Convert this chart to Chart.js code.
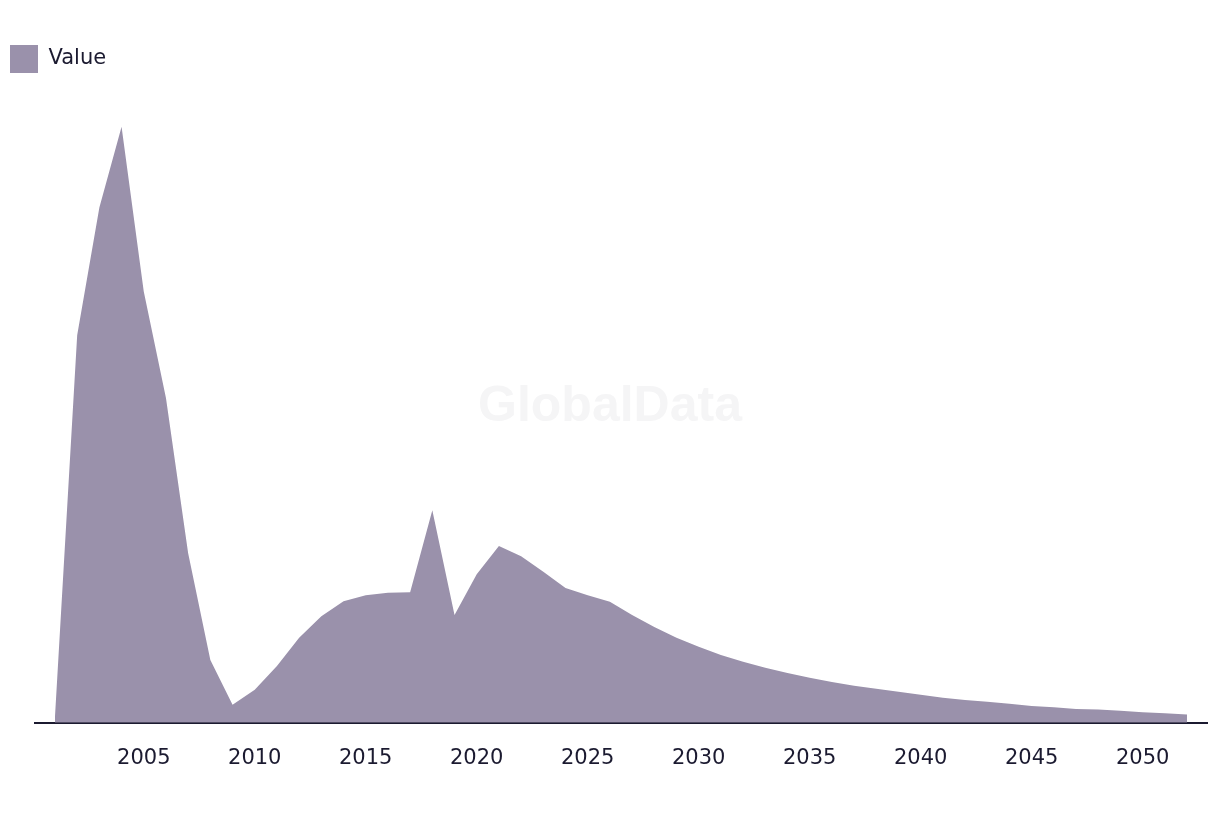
<!DOCTYPE html>
<html>
<head>
<meta charset="utf-8">
<title>Value</title>
<script src="https://cdn.jsdelivr.net/npm/chart.js@4.4.1/dist/chart.umd.min.js"></script>
<style>
  html, body { margin: 0; padding: 0; background: #ffffff; }
  #wrap { position: relative; width: 1220px; height: 814px; }
</style>
</head>
<body>
<div id="wrap"><canvas id="myChart"></canvas></div>
<script>
'use strict';

// ******* DATA *******
let years = [
  2001, 2002, 2003, 2004, 2005, 2006, 2007, 2008, 2009, 2010,
  2011, 2012, 2013, 2014, 2015, 2016, 2017, 2018, 2019, 2020,
  2021, 2022, 2023, 2024, 2025, 2026, 2027, 2028, 2029, 2030,
  2031, 2032, 2033, 2034, 2035, 2036, 2037, 2038, 2039, 2040,
  2041, 2042, 2043, 2044, 2045, 2046, 2047, 2048, 2049, 2050,
  2051, 2052
];
let values = [
  1.0, 64.7, 86.0, 99.5, 72.0, 54.2, 28.3, 10.5, 3.0, 5.5,
  9.5, 14.2, 17.8, 20.3, 21.3, 21.7, 21.8, 35.5, 18.0, 24.8,
  29.5, 27.8, 25.2, 22.5, 21.3, 20.2, 18.0, 16.0, 14.2, 12.7,
  11.3, 10.2, 9.2, 8.3, 7.5, 6.8, 6.2, 5.7, 5.2, 4.7,
  4.2, 3.8, 3.5, 3.2, 2.8, 2.6, 2.3, 2.2, 2.0, 1.75,
  1.6, 1.4
];
let seriesName = 'Value';
let tickStep = 5;

// ******* STYLE *******
let fillColor = 'rgb(154, 145, 171)';
let inkColor = '#1b1a30';
let baseFont = 'DejaVu Sans';

// ******* WATERMARK PLUGIN *******
let watermark = {
  id: 'watermark',
  beforeDraw(chart) {
    let ctx = chart.ctx;
    ctx.save();
    ctx.font = 'bold 50px "Liberation Sans"';
    ctx.fillStyle = '#f5f5f6';
    ctx.textAlign = 'center';
    ctx.textBaseline = 'middle';
    ctx.fillText('GlobalData', chart.width / 2, chart.height / 2);
    ctx.restore();
  }
};

let points = [];
for (let i = 0; i < years.length; i++) {
  points.push({ x: years[i], y: values[i] });
}

let canvasElem = document.getElementById('myChart').getContext('2d');

new Chart(canvasElem, {
  type: 'line',
  data: {
    datasets: [{
      label: seriesName,
      data: points,
      fill: 'origin',
      backgroundColor: fillColor,
      borderColor: fillColor,
      borderWidth: 0,
      pointRadius: 0,
      tension: 0
    }]
  },
  options: {
    responsive: true,
    maintainAspectRatio: false,
    animation: false,
    layout: {
      padding: { top: 35, right: 13, bottom: 20, left: 0 }
    },
    plugins: {
      legend: {
        position: 'top',
        align: 'start',
        labels: {
          boxWidth: 28,
          boxHeight: 28,
          padding: 10,
          color: inkColor,
          font: { family: baseFont, size: 21 }
        }
      },
      tooltip: { enabled: false }
    },
    scales: {
      x: {
        type: 'linear',
        min: 2000.1,
        max: 2052.9,
        grid: { display: false, drawTicks: false },
        border: { display: true, color: inkColor, width: 2 },
        ticks: {
          stepSize: tickStep,
          includeBounds: false,
          padding: 23,
          color: inkColor,
          maxRotation: 0,
          font: { family: baseFont, size: 21 },
          callback: (v) => String(v)
        }
      },
      y: {
        min: 0,
        max: 106.8,
        afterFit(scale) { scale.width = 35; },
        grid: { display: false },
        border: { display: false },
        ticks: { display: false }
      }
    }
  },
  plugins: [watermark]
});
</script>
</body>
</html>
